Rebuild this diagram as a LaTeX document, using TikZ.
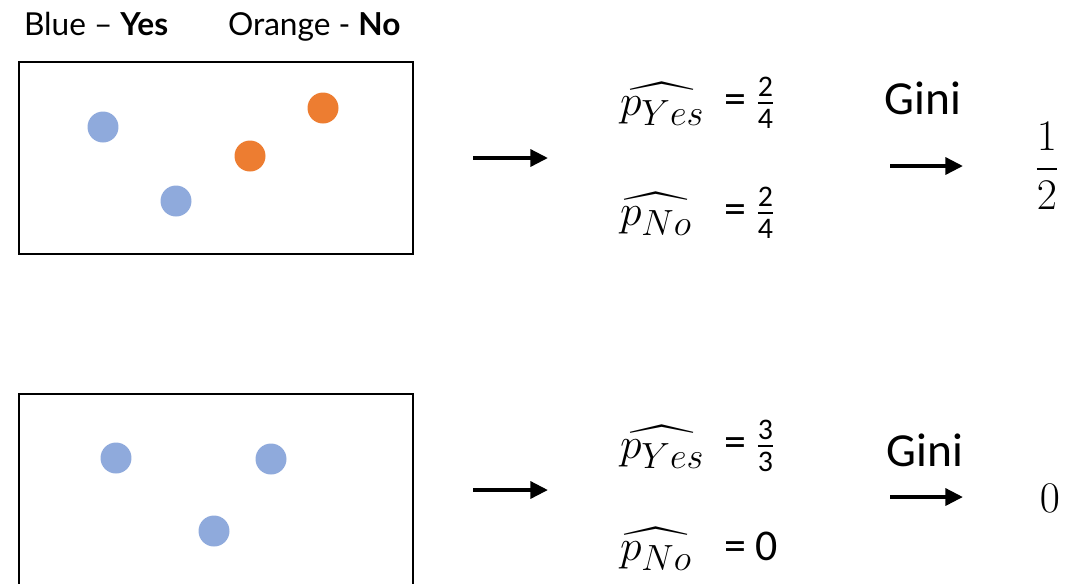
\documentclass[tikz,border=0pt]{standalone}
\usepackage{amsmath}
\usepackage{fontspec}
\setmainfont{Carlito}
\newfontfamily\legendfont{Lato}
\usetikzlibrary{arrows.meta}
\definecolor{DotBlue}{RGB}{143,170,220}
\definecolor{DotOrange}{RGB}{237,125,49}
\newcommand{\fracdigit}[1]{\text{\fontsize{17}{17}\selectfont #1}}

\begin{document}
\begin{tikzpicture}[
x=0.02cm,
y=-0.02cm,
every node/.style={inner sep=0pt,outer sep=0pt,text=black},
frame/.style={draw=black,line width=1.2pt},
yesdot/.style={circle,fill=DotBlue,minimum size=0.62cm},
nodot/.style={circle,fill=DotOrange,minimum size=0.62cm},
legend/.style={font=\legendfont\fontsize{18}{22}\selectfont,anchor=base west},
phat/.style={font=\fontsize{28}{32}\selectfont,anchor=west},
prob/.style={font=\fontsize{25}{30}\selectfont,anchor=west},
ginilabel/.style={font=\fontsize{27}{32}\selectfont},
score/.style={font=\fontsize{32}{38}\selectfont},
flow/.style={-{Triangle[length=10pt,width=9.5pt]},line width=2.3pt}
]

\clip (0,0) rectangle (1077,583);
\path[use as bounding box] (0,0) rectangle (1077,583);

% legend
\node[legend] (legyes) at (24,35) {Blue – \textbf{Yes}};
\node[legend] (legno) at (228,35) {Orange - \textbf{No}};

% top sample
\draw[frame] (19,62) rectangle (413,254);
\node[yesdot] (ya) at (103,127) {};
\node[yesdot] (yb) at (176,201) {};
\node[nodot] (na) at (250,156) {};
\node[nodot] (nb) at (323,108) {};

% bottom sample
\draw[frame] (19,394) rectangle (413,640);
\node[yesdot] (yc) at (116,458) {};
\node[yesdot] (yd) at (271,459) {};
\node[yesdot] (ye) at (214,531) {};

% proportions
\node[phat] (pyestop) at (620,104) {$\widehat{p_{Yes}}$};
\node[prob] (fyestop) at (724,103) {$\text{=}\ \frac{\fracdigit{2}}{\fracdigit{4}}$};
\node[phat] (pnotop) at (620,214) {$\widehat{p_{No}}$};
\node[prob] (fnotop) at (724,213) {$\text{=}\ \frac{\fracdigit{2}}{\fracdigit{4}}$};

\node[phat] (pyesbot) at (620,447) {$\widehat{p_{Yes}}$};
\node[prob] (fyesbot) at (724,446) {$\text{=}\ \frac{\fracdigit{3}}{\fracdigit{3}}$};
\node[phat] (pnobot) at (620,549) {$\widehat{p_{No}}$};
\node[prob] (fnobot) at (724,546) {= 0};

% gini
\node[ginilabel] (ginitop) at (923,98) {Gini};
\node[ginilabel] (ginibot) at (925,450) {Gini};
\node[score] (scoretop) at (1047,166) {$\dfrac{1}{2}$};
\node[score] (scorebot) at (1050,498) {$0$};

% arrows
\coordinate (toparrowa) at (473,158);
\coordinate (toparrowb) at (548,158);
\coordinate (botarrowa) at (473,490);
\coordinate (botarrowb) at (548,490);
\coordinate (topginia) at (890,166);
\coordinate (topginib) at (963,166);
\coordinate (botginia) at (890,497);
\coordinate (botginib) at (963,497);

\draw[flow] (toparrowa) -- (toparrowb);
\draw[flow] (botarrowa) -- (botarrowb);
\draw[flow] (topginia) -- (topginib);
\draw[flow] (botginia) -- (botginib);

\end{tikzpicture}
\end{document}
